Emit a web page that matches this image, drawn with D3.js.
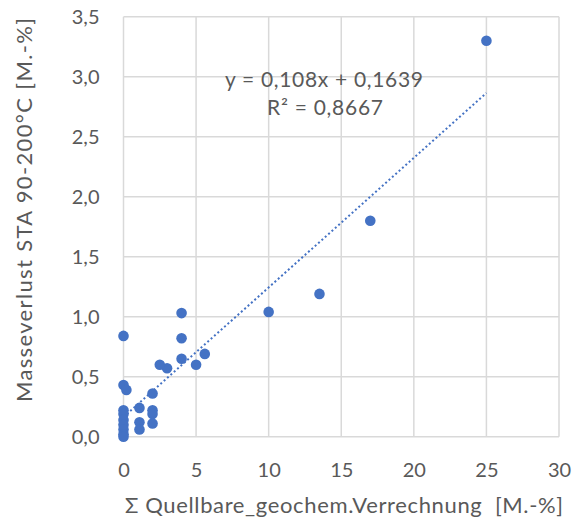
<!DOCTYPE html>
<html>
<head>
<meta charset="utf-8">
<script src="https://cdn.jsdelivr.net/npm/d3@7"></script>
<style>
  html, body { margin: 0; padding: 0; background: #fff; }
  svg { display: block; }
  text { font-family: Lato, "Open Sans", sans-serif; fill: #595959; white-space: pre; }
</style>
</head>
<body>
<svg id="chart" width="573" height="523"></svg>
<script>
// Quellbare (x) vs. Masseverlust STA 90-200 °C (y), both in M.-%
const xValues = [25, 17, 13.5, 10, 5.6, 5, 4, 4, 4, 3, 2.5, 2, 2, 2, 2, 1.1, 1.1, 1.1,
                 0, 0.2, 0, 0, 0, 0, 0, 0, 0, 0];
const yValues = [3.3, 1.8, 1.19, 1.04, 0.69, 0.6, 1.03, 0.82, 0.65, 0.57, 0.6, 0.36, 0.22, 0.19, 0.11, 0.24, 0.12, 0.06,
                 0.43, 0.39, 0.84, 0.22, 0.19, 0.14, 0.1, 0.06, 0.02, 0.0];
const xTicks = [0, 5, 10, 15, 20, 25, 30];
const yTicks = [0, 0.5, 1, 1.5, 2, 2.5, 3, 3.5];
const trendSlope = 0.108;
const trendIntercept = 0.1639;
const trendRange = [0, 25];
const equationLabel = "y = 0,108x + 0,1639";
const r2Label = "R² = 0,8667";
const xTitle = "Σ Quellbare_geochem.Verrechnung  [M.-%]";
const yTitle = "Masseverlust STA 90-200°C [M.-%]";

const svg = d3.select("#chart");
const margin = { left: 123.5, right: 14, top: 16.7, bottom: 86.3 };
const W = 573, H = 523;

const x = d3.scaleLinear().domain([0, 30]).range([margin.left, W - margin.right]);
const y = d3.scaleLinear().domain([0, 3.5]).range([H - margin.bottom, margin.top]);

const fmt = d3.formatLocale({ decimal: ",", thousands: ".", grouping: [3], currency: ["", "€"] });
const yFmt = fmt.format(".1f");

// gridlines
const grid = svg.append("g");
grid.selectAll("line.v").data(xTicks).join("line")
  .attr("x1", d => x(d)).attr("x2", d => x(d))
  .attr("y1", y(0)).attr("y2", y(3.5))
  .attr("stroke", "#d9d9d9").attr("stroke-width", 1.5);
grid.selectAll("line.h").data(yTicks).join("line")
  .attr("y1", d => y(d)).attr("y2", d => y(d))
  .attr("x1", x(0)).attr("x2", x(30))
  .attr("stroke", "#d9d9d9").attr("stroke-width", 1.5);

// axes (labels only, lines come from gridlines)
const xAxis = svg.append("g")
  .attr("transform", `translate(0,${y(0)})`)
  .call(d3.axisBottom(x).tickValues(xTicks).tickSize(0).tickPadding(26).tickFormat(d3.format("d")));
const yAxis = svg.append("g")
  .attr("transform", `translate(${x(0)},0)`)
  .call(d3.axisLeft(y).tickValues(yTicks).tickSize(0).tickPadding(24).tickFormat(yFmt));
[xAxis, yAxis].forEach(a => {
  a.select(".domain").remove();
  a.selectAll("text").attr("font-size", 20).attr("fill", "#595959")
    .attr("font-family", "Lato, 'Open Sans', sans-serif");
});

// trendline
svg.append("line")
  .attr("x1", x(trendRange[0])).attr("y1", y(trendSlope * trendRange[0] + trendIntercept))
  .attr("x2", x(trendRange[1])).attr("y2", y(trendSlope * trendRange[1] + trendIntercept))
  .attr("stroke", "#4472c4").attr("stroke-width", 2)
  .attr("stroke-dasharray", "2,2.5");

// points
svg.append("g").selectAll("circle").data(xValues.map((v, i) => [v, yValues[i]])).join("circle")
  .attr("cx", d => x(d[0])).attr("cy", d => y(d[1]))
  .attr("r", 5.3).attr("fill", "#4472c4");

// trendline label
svg.append("text").attr("x", 324).attr("y", 87).attr("text-anchor", "middle")
  .attr("font-size", 21).attr("textLength", 198).attr("lengthAdjust", "spacing").text(equationLabel);
svg.append("text").attr("x", 325).attr("y", 115).attr("text-anchor", "middle")
  .attr("font-size", 21).attr("textLength", 116).attr("lengthAdjust", "spacing").text(r2Label);

// axis titles
svg.append("text").attr("x", 344).attr("y", 513).attr("text-anchor", "middle")
  .attr("font-size", 22).attr("textLength", 438).attr("lengthAdjust", "spacing").text(xTitle);
svg.append("text").attr("transform", "translate(32,210) rotate(-90)").attr("text-anchor", "middle")
  .attr("font-size", 22).attr("textLength", 384).attr("lengthAdjust", "spacing").text(yTitle);
</script>
</body>
</html>
